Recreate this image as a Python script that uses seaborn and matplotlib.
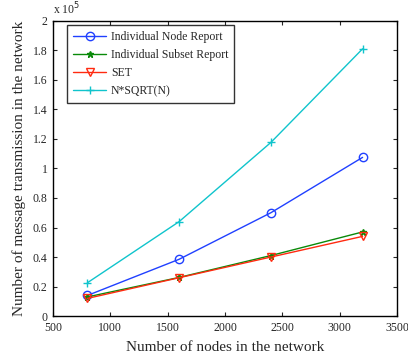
import matplotlib
matplotlib.use("Agg")
import matplotlib.pyplot as plt
import seaborn as sns
import pandas as pd

nodes = [800, 1600, 2400, 3200]
node_report = [0.14, 0.385, 0.70, 1.075]
subset_report = [0.13, 0.262, 0.41, 0.57]
set_vals = [0.12, 0.26, 0.40, 0.54]
nsqrtn = [0.226, 0.64, 1.176, 1.81]

series_names = ["Individual Node Report", "Individual Subset Report", "SET", "N*SQRT(N)"]
series_vals = [node_report, subset_report, set_vals, nsqrtn]
colors = ["#2040ff", "#0a8a0a", "#ff2a10", "#10c4cc"]
markers = ["o", "*", "v", "+"]

sns.set_style("ticks")
plt.rcParams['font.family'] = ['Liberation Serif', 'DejaVu Serif']

fig = plt.figure(figsize=(4.08, 3.58), dpi=100)
ax = fig.add_axes([0.130, 0.117, 0.843, 0.825])

for name, vals, c, m in zip(series_names, series_vals, colors, markers):
    df = pd.DataFrame({"x": nodes, "y": vals})
    mfc = c if m == "*" else "none"
    ms = 5 if m == "*" else 6
    sns.lineplot(data=df, x="x", y="y", ax=ax, color=c, marker=m, markersize=ms,
                 markerfacecolor=mfc, markeredgecolor=c, markeredgewidth=1.0,
                 linewidth=1.0, label=name)

ax.set_xlim(500, 3500)
ax.set_ylim(0, 2)
ax.set_xticks(range(500, 3501, 500))
ax.set_yticks([0, 0.2, 0.4, 0.6, 0.8, 1.0, 1.2, 1.4, 1.6, 1.8, 2.0])
ax.set_yticklabels(["0", "0.2", "0.4", "0.6", "0.8", "1", "1.2", "1.4", "1.6", "1.8", "2"])
ax.tick_params(direction="in", length=3, labelsize=8.5, top=True, right=True, width=0.8, pad=4)
for s in ax.spines.values():
    s.set_linewidth(1.0)
    s.set_color("black")
ax.set_xlabel("Number of nodes in the network", fontsize=11, labelpad=5)
ax.set_ylabel("Number of message transmission in the network", fontsize=11, labelpad=5)
ax.text(0.0, 1.012, r"x 10$^5$", transform=ax.transAxes, fontsize=8.5, ha="left", va="bottom")

leg = ax.legend(loc="upper left", bbox_to_anchor=(0.041, 0.985), borderaxespad=0,
                fontsize=8.5, frameon=True, fancybox=False, edgecolor="black",
                borderpad=0.5, handlelength=2.8, handletextpad=0.4, labelspacing=0.5)
leg.get_frame().set_linewidth(1.0)

fig.savefig("out.png", dpi=100)
